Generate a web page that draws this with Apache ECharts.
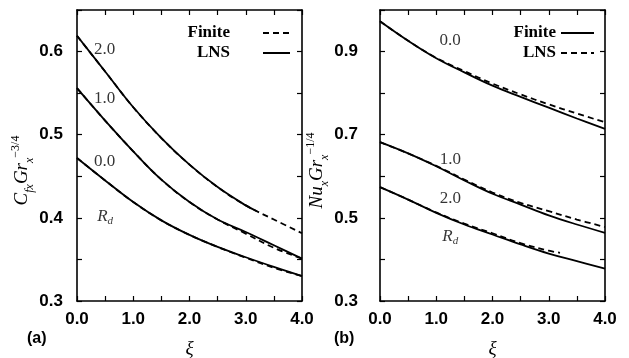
<!DOCTYPE html>
<html><head><meta charset="utf-8">
<script src="https://cdn.jsdelivr.net/npm/echarts@6/dist/echarts.min.js"></script>
<style>html,body{margin:0;padding:0;background:#fff}#c{width:629px;height:358px}</style>
</head><body><div id="c"></div>
<script>
// ---- data ----
const xi = [0, 0.5, 1, 1.5, 2, 2.5, 3, 3.5, 4];
const xiShort = [0, 0.5, 1, 1.5, 2, 2.5, 3, 3.2];
const xTickLabels = ['0.0', '1.0', '2.0', '3.0', '4.0'];

// (a) Cfx Gr^-3/4
const cfFinite20 = [0.619, 0.576, 0.533, 0.496, 0.464, 0.437, 0.415, 0.398, 0.3815];
const cfLNS20    = [0.619, 0.576, 0.533, 0.496, 0.464, 0.437, 0.415, 0.408];
const cfFinite10 = [0.556, 0.517, 0.480, 0.446, 0.419, 0.398, 0.381, 0.364, 0.351];
const cfLNS10    = [0.556, 0.517, 0.480, 0.446, 0.419, 0.398, 0.383, 0.367, 0.351];
const cfFinite00 = [0.472, 0.445, 0.419, 0.397, 0.3795, 0.365, 0.352, 0.340, 0.330];
const cfLNS00    = [0.472, 0.445, 0.419, 0.397, 0.3795, 0.365, 0.3526, 0.341, 0.330];

// (b) Nux Gr^-1/4
const nuFinite00 = [0.973, 0.926, 0.884, 0.850, 0.818, 0.791, 0.765, 0.739, 0.714];
const nuLNS00    = [0.973, 0.926, 0.885, 0.853, 0.823, 0.797, 0.773, 0.751, 0.730];
const nuFinite10 = [0.682, 0.655, 0.624, 0.590, 0.558, 0.532, 0.506, 0.484, 0.464];
const nuLNS10    = [0.682, 0.655, 0.625, 0.592, 0.561, 0.536, 0.516, 0.496, 0.478];
const nuFinite20 = [0.574, 0.544, 0.512, 0.484, 0.460, 0.436, 0.414, 0.396, 0.378];
const nuLNS20    = [0.574, 0.544, 0.513, 0.486, 0.463, 0.439, 0.421, 0.416];

const curveLabels = ['2.0', '1.0', '0.0', 'Rd'];
const curveLabelsB = ['0.0', '1.0', '2.0', 'Rd'];

// ---- chart ----
const chart = echarts.init(document.getElementById('c'), null, {renderer: 'canvas'});
const pairs = (xs, ys) => ys.map((y, i) => [xs[i], y]);
const SERIF = 'Liberation Serif';
const SANS = 'Liberation Sans';

function xAx(grid, pos) {
  return {
    type: 'value', gridIndex: grid, position: pos, min: 0, max: 4, interval: 0.5,
    axisLine: {show: true, onZero: false, lineStyle: {color: '#000', width: 1.6}},
    axisTick: {show: true, inside: true, length: 5, lineStyle: {color: '#000', width: 1.2}},
    axisLabel: {show: pos === 'bottom', margin: 10, color: '#000', fontFamily: SANS, fontWeight: 'bold', fontSize: 17,
      formatter: v => Math.abs(v - Math.round(v)) < 1e-6 ? xTickLabels[Math.round(v)] : ''},
    splitLine: {show: false},
    name: pos === 'bottom' ? 'ξ' : '', nameLocation: 'middle', nameGap: 38,
    nameTextStyle: {fontFamily: SERIF, fontStyle: 'italic', fontSize: 19, color: '#000'}
  };
}
const richName = {
  i: {fontFamily: SERIF, fontStyle: 'italic', fontSize: 19, color: '#000', lineHeight: 26},
  sub: {fontFamily: SERIF, fontStyle: 'italic', fontSize: 12, color: '#000', verticalAlign: 'bottom'},
  sup: {fontFamily: SERIF, fontSize: 12, color: '#000', verticalAlign: 'top'}
};
function yAx(grid, pos, min, max, interval, labelFn, name, gap, margin) {
  return {
    type: 'value', gridIndex: grid, position: pos, min, max, interval,
    axisLine: {show: true, onZero: false, lineStyle: {color: '#000', width: 1.6}},
    axisTick: {show: true, inside: true, length: 5, lineStyle: {color: '#000', width: 1.2}},
    axisLabel: {show: pos === 'left', margin, color: '#000', fontFamily: SANS, fontWeight: 'bold', fontSize: 17, formatter: labelFn},
    splitLine: {show: false},
    name: pos === 'left' ? name : '', nameLocation: 'middle', nameRotate: 90, nameGap: gap,
    nameTextStyle: {rich: richName, padding: [0, 30, 0, 0]}
  };
}
const labA = v => Math.abs(v * 10 - Math.round(v * 10)) < 1e-6 ? v.toFixed(1) : '';
const labB = v => (Math.round(v * 10) % 2 === 1) ? v.toFixed(1) : '';

function line(name, xs, ys, g, dashed) {
  return {type: 'line', name, xAxisIndex: g * 2, yAxisIndex: g * 2, data: pairs(xs, ys),
    smooth: 0.4, symbol: 'none', showSymbol: false,
    lineStyle: {color: '#000', width: 1.8, type: dashed ? [6, 4] : 'solid'},
    itemStyle: {color: '#000'}, z: dashed ? 3 : 2};
}
function labels(g, names, coords) {
  return {type: 'scatter', xAxisIndex: g * 2, yAxisIndex: g * 2, symbolSize: 1,
    itemStyle: {color: 'rgba(0,0,0,0)'}, silent: true, z: 5,
    data: names.map((n, i) => ({name: n, value: coords[i]})),
    label: {show: true, position: 'inside', color: '#000', fontFamily: SERIF, fontSize: 17,
      formatter: p => p.name === 'Rd' ? '{r|R}{d|d}' : p.name,
      rich: {r: {fontFamily: SERIF, fontStyle: 'italic', fontSize: 17, color: '#000', lineHeight: 20},
             d: {fontFamily: SERIF, fontStyle: 'italic', fontSize: 11, color: '#000', verticalAlign: 'bottom'}}}
  };
}
const legendCommon = {orient: 'vertical', align: 'right', padding: 0, itemHeight: 12, itemGap: 2,
  formatter: n => n.trim(), selectedMode: false,
  itemStyle: {color: 'rgba(0,0,0,0)', borderColor: 'rgba(0,0,0,0)', borderWidth: 0, opacity: 0}};

chart.setOption({
  animation: false,
  backgroundColor: '#fff',
  grid: [
    {left: 77, right: 327, top: 10, bottom: 57, outerBoundsMode: 'none'},
    {left: 380, right: 24, top: 10, bottom: 57, outerBoundsMode: 'none'}
  ],
  xAxis: [xAx(0, 'bottom'), xAx(0, 'top'), xAx(1, 'bottom'), xAx(1, 'top')],
  yAxis: [
    yAx(0, 'left', 0.3, 0.65, 0.05, labA, '{i|C}{sub|fx}{i|Gr}{sub|x}{sup|−3/4}', 36, 14),
    yAx(0, 'right', 0.3, 0.65, 0.05, labA, '', 0, 0),
    yAx(1, 'left', 0.3, 1.0, 0.1, labB, '{i|Nu}{sub|x}{i|Gr}{sub|x}{sup|−1/4}', 31, 22),
    yAx(1, 'right', 0.3, 1.0, 0.1, labB, '', 0, 0)
  ],
  legend: [
    Object.assign({}, legendCommon, {right: 338, top: 24, itemWidth: 27, data: ['Finite', 'LNS'],
      textStyle: {fontFamily: SERIF, fontWeight: 'bold', fontSize: 17, color: '#000', lineHeight: 18, padding: [0, 28, 0, 0]}}),
    Object.assign({}, legendCommon, {right: 34, top: 24, itemWidth: 33, data: ['Finite ', 'LNS '],
      textStyle: {fontFamily: SERIF, fontWeight: 'bold', fontSize: 17, color: '#000', lineHeight: 18}})
  ],
  graphic: [
    {type: 'text', left: 27, top: 331, style: {text: '(a)', font: 'bold 16px "Liberation Sans"', fill: '#000'}},
    {type: 'text', left: 334, top: 331, style: {text: '(b)', font: 'bold 16px "Liberation Sans"', fill: '#000'}}
  ],
  series: [
    line('LNS', xiShort, cfLNS20, 0, false),
    line('LNS', xi, cfLNS10, 0, false),
    line('LNS', xi, cfLNS00, 0, false),
    line('Finite', xi, cfFinite20, 0, true),
    line('Finite', xi, cfFinite10, 0, true),
    line('Finite', xi, cfFinite00, 0, true),
    line('Finite ', xi, nuFinite00, 1, false),
    line('Finite ', xi, nuFinite10, 1, false),
    line('Finite ', xi, nuFinite20, 1, false),
    line('LNS ', xi, nuLNS00, 1, true),
    line('LNS ', xi, nuLNS10, 1, true),
    line('LNS ', xiShort, nuLNS20, 1, true),
    labels(0, curveLabels, [[0.49, 0.603], [0.49, 0.544], [0.49, 0.468], [0.5, 0.401]]),
    labels(1, curveLabelsB, [[1.245, 0.927], [1.253, 0.640], [1.253, 0.547], [1.25, 0.455]])
  ]
});
</script>
</body></html>
